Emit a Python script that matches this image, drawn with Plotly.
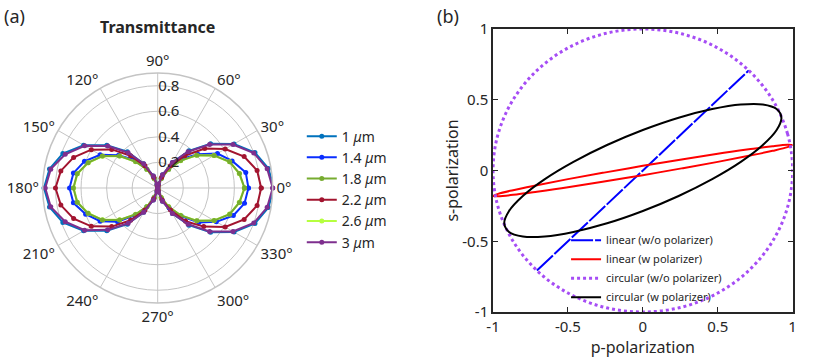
import plotly.graph_objects as go

# ---- panel (a): polar transmittance ----
theta_deg = list(range(0, 361, 10))

wavelengths = ["1", "1.4", "1.8", "2.2", "2.6", "3"]
wl_colors = ["#0072BD", "#0A2EFF", "#77AC30", "#A2142F", "#B6FF3F", "#7E2F8E"]
# drawing order (2.6 µm sits under 1.8 µm in the original)
draw_order = [0, 1, 4, 2, 3, 5]

t_1_0 = [0.91, 0.88, 0.81, 0.69, 0.54, 0.38, 0.23, 0.11, 0.03, 0.00, 0.03, 0.10, 0.22, 0.37, 0.52, 0.67, 0.79, 0.86, 0.89,
         0.86, 0.79, 0.67, 0.52, 0.37, 0.22, 0.10, 0.03, 0.00, 0.03, 0.11, 0.23, 0.38, 0.54, 0.69, 0.81, 0.88, 0.91]
t_1_4 = [0.71, 0.70, 0.62, 0.54, 0.41, 0.30, 0.17, 0.08, 0.02, 0.00, 0.02, 0.08, 0.17, 0.29, 0.40, 0.52, 0.61, 0.67, 0.69,
         0.67, 0.60, 0.52, 0.41, 0.28, 0.17, 0.08, 0.02, 0.00, 0.02, 0.09, 0.18, 0.29, 0.42, 0.53, 0.63, 0.69, 0.71]
t_1_8 = [0.68, 0.65, 0.60, 0.51, 0.40, 0.28, 0.17, 0.08, 0.02, 0.00, 0.02, 0.08, 0.17, 0.27, 0.39, 0.50, 0.58, 0.64, 0.66,
         0.64, 0.58, 0.50, 0.39, 0.27, 0.17, 0.08, 0.02, 0.00, 0.02, 0.08, 0.17, 0.28, 0.40, 0.51, 0.60, 0.65, 0.68]
t_2_2 = [0.81, 0.79, 0.72, 0.61, 0.48, 0.33, 0.20, 0.09, 0.02, 0.00, 0.02, 0.09, 0.20, 0.33, 0.47, 0.60, 0.70, 0.77, 0.80,
         0.77, 0.70, 0.60, 0.47, 0.33, 0.20, 0.09, 0.02, 0.00, 0.02, 0.10, 0.20, 0.34, 0.47, 0.61, 0.72, 0.79, 0.81]
t_2_6 = [0.678, 0.648, 0.598, 0.508, 0.398, 0.278, 0.168, 0.079, 0.02, 0.00, 0.02, 0.079, 0.168, 0.268, 0.388, 0.498, 0.578, 0.638, 0.658,
         0.638, 0.578, 0.498, 0.388, 0.268, 0.168, 0.079, 0.02, 0.00, 0.02, 0.079, 0.168, 0.278, 0.398, 0.508, 0.598, 0.648, 0.678]
t_3_0 = [0.90, 0.87, 0.80, 0.68, 0.53, 0.37, 0.23, 0.11, 0.03, 0.00, 0.03, 0.10, 0.22, 0.36, 0.51, 0.66, 0.77, 0.85, 0.88,
         0.85, 0.77, 0.66, 0.51, 0.36, 0.22, 0.10, 0.03, 0.00, 0.03, 0.11, 0.23, 0.37, 0.53, 0.68, 0.80, 0.87, 0.90]
transmittance = [t_1_0, t_1_4, t_1_8, t_2_2, t_2_6, t_3_0]

# ---- panel (b): polarization ellipses ----
lin_free_x = [-0.707, 0.707]
lin_free_y = [-0.707, 0.707]

lin_pol_x = [1.0, 0.966, 0.866, 0.707, 0.5, 0.259, 0.0, -0.259, -0.5, -0.707, -0.866, -0.966, -1.0,
             -0.966, -0.866, -0.707, -0.5, -0.259, 0.0, 0.259, 0.5, 0.707, 0.866, 0.966, 1.0]
lin_pol_y = [0.180, 0.165, 0.139, 0.104, 0.061, 0.015, -0.033, -0.078, -0.119, -0.150, -0.172, -0.182, -0.180,
             -0.165, -0.139, -0.104, -0.061, -0.015, 0.033, 0.078, 0.119, 0.150, 0.172, 0.182, 0.180]

circ_free_x = [1.0, 0.966, 0.866, 0.707, 0.5, 0.259, 0.0, -0.259, -0.5, -0.707, -0.866, -0.966, -1.0,
               -0.966, -0.866, -0.707, -0.5, -0.259, 0.0, 0.259, 0.5, 0.707, 0.866, 0.966, 1.0]
circ_free_y = [0.0, 0.259, 0.5, 0.707, 0.866, 0.966, 1.0, 0.966, 0.866, 0.707, 0.5, 0.259, 0.0,
               -0.259, -0.5, -0.707, -0.866, -0.966, -1.0, -0.966, -0.866, -0.707, -0.5, -0.259, 0.0]

circ_pol_x = [0.925, 0.893, 0.801, 0.654, 0.463, 0.239, 0.0, -0.239, -0.463, -0.654, -0.801, -0.893, -0.925,
              -0.893, -0.801, -0.654, -0.463, -0.239, 0.0, 0.239, 0.463, 0.654, 0.801, 0.893, 0.925]
circ_pol_y = [0.373, 0.286, 0.180, 0.061, -0.061, -0.180, -0.286, -0.373, -0.434, -0.466, -0.466, -0.434, -0.373,
              -0.286, -0.180, -0.061, 0.061, 0.180, 0.286, 0.373, 0.434, 0.466, 0.466, 0.434, 0.373]

FONT = "Noto Sans, Open Sans, sans-serif"
INK = "#262626"
GRID = "#c4c4c4"

fig = go.Figure()

for i in draw_order:
    col = wl_colors[i]
    fig.add_trace(go.Scatterpolar(
        r=transmittance[i], theta=theta_deg,
        mode="lines+markers",
        name=f"{wavelengths[i]} <i>μ</i>m",
        line=dict(color=col, width=2),
        marker=dict(color=col, size=5),
        legend="legend", legendrank=i + 1,
    ))

fig.add_trace(go.Scatter(
    x=lin_free_x, y=lin_free_y, mode="lines", name="linear (w/o polarizer)",
    line=dict(color="#0000FF", width=2, dash="22px,2px"), legend="legend2",
))
fig.add_trace(go.Scatter(
    x=lin_pol_x, y=lin_pol_y, mode="lines", name="linear (w polarizer)",
    line=dict(color="#FF0000", width=2, shape="spline"), legend="legend2",
))
fig.add_trace(go.Scatter(
    x=circ_free_x, y=circ_free_y, mode="lines", name="circular (w/o polarizer)",
    line=dict(color="#A64DF5", width=3, dash="dot", shape="spline"), legend="legend2",
))
fig.add_trace(go.Scatter(
    x=circ_pol_x, y=circ_pol_y, mode="lines", name="circular (w polarizer)",
    line=dict(color="#000000", width=2, shape="spline"), legend="legend2",
))

axis_common = dict(
    range=[-1, 1], tickvals=[-1, -0.5, 0, 0.5, 1], ticktext=["-1", "-0.5", "0", "0.5", "1"],
    showgrid=False, zeroline=False, showline=True, linecolor=INK, linewidth=1.5,
    mirror="allticks", ticks="inside", ticklen=5, tickcolor=INK, tickwidth=1.2,
    tickfont=dict(size=15, color=INK),
)

fig.update_layout(
    width=830, height=361,
    margin=dict(l=0, r=0, t=0, b=0, autoexpand=False),
    paper_bgcolor="white", plot_bgcolor="white",
    font=dict(family=FONT, color=INK),
    polar=dict(
        domain=dict(x=[0.0514, 0.3286], y=[0.1607, 0.7978]),
        bgcolor="white",
        angularaxis=dict(
            dtick=30, rotation=0, direction="counterclockwise",
            showline=True, linecolor=GRID, linewidth=1.5,
            gridcolor=GRID, gridwidth=1.3, ticks="",
            tickfont=dict(size=15, color=INK),
        ),
        radialaxis=dict(
            range=[0, 0.9], tickvals=[0.2, 0.4, 0.6, 0.8], angle=90, tickangle=90,
            side="clockwise",
            showline=False, gridcolor=GRID, gridwidth=1.3, ticks="",
            tickfont=dict(size=15, color=INK),
        ),
    ),
    xaxis=dict(domain=[0.594, 0.955], title=dict(text="p-polarization", font=dict(size=16), standoff=4), **axis_common),
    yaxis=dict(domain=[0.1357, 0.9197], title=dict(text="s-polarization", font=dict(size=16), standoff=0), **axis_common),
    legend=dict(
        x=0.3636, y=0.666, xanchor="left", yanchor="top",
        font=dict(size=14, color=INK), bgcolor="rgba(0,0,0,0)", itemwidth=30,
    ),
    legend2=dict(
        x=0.682, y=0.375, xanchor="left", yanchor="top",
        font=dict(size=11, color=INK), bgcolor="rgba(0,0,0,0)", itemwidth=30,
    ),
    annotations=[
        dict(text="(a)", x=0.003, y=0.995, xref="paper", yref="paper", xanchor="left", yanchor="top",
             showarrow=False, font=dict(size=18, color=INK)),
        dict(text="<b>Transmittance</b>", x=0.19, y=0.925, xref="paper", yref="paper", xanchor="center",
             yanchor="middle", showarrow=False, font=dict(size=16, color=INK)),
        dict(text="(b)", x=0.524, y=0.995, xref="paper", yref="paper", xanchor="left", yanchor="top",
             showarrow=False, font=dict(size=18, color=INK)),
    ],
)

fig.write_html("out.html", config={"displayModeBar": False},
               post_script="document.body.style.margin='0';")
